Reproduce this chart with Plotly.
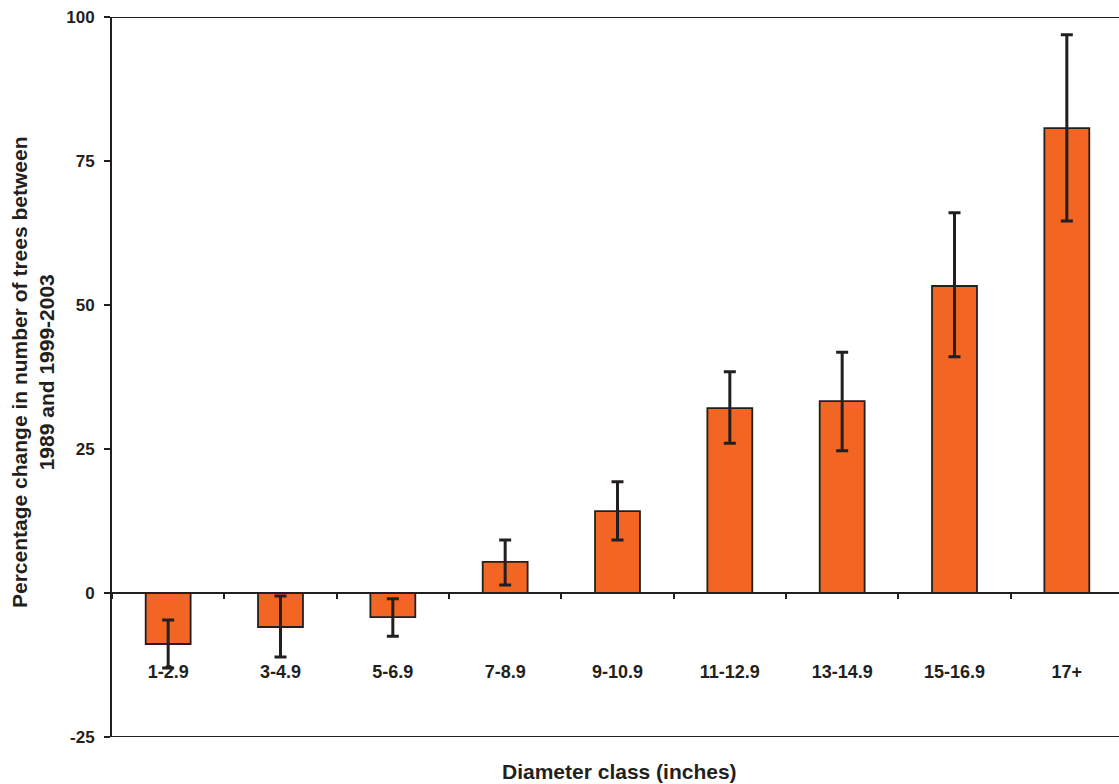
import plotly.graph_objects as go

categories = ["1-2.9", "3-4.9", "5-6.9", "7-8.9", "9-10.9", "11-12.9", "13-14.9", "15-16.9", "17+"]
values = [-8.85, -5.9, -4.2, 5.4, 14.2, 32.1, 33.3, 53.3, 80.7]
err_high = [-4.7, -0.5, -1.0, 9.2, 19.3, 38.4, 41.8, 66.0, 96.9]
err_low = [-13.0, -11.1, -7.5, 1.4, 9.2, 26.0, 24.7, 41.0, 64.6]
y_ticks = [-25, 0, 25, 50, 75, 100]
y_tick_labels = ["-25", "0", "25", "50", "75", "100"]

plus = [h - v for h, v in zip(err_high, values)]
minus = [v - l for v, l in zip(values, err_low)]

FONT = "Liberation Sans, Arial, sans-serif"
DARK = "#231F20"

fig = go.Figure()
fig.add_trace(go.Bar(
    x=categories, y=values,
    marker=dict(color="#F26522", line=dict(color=DARK, width=1.8)),
    width=0.4,
    error_y=dict(type="data", symmetric=False, array=plus, arrayminus=minus,
                 color=DARK, thickness=3, width=6),
))

fig.update_layout(
    width=1123, height=784,
    margin=dict(l=112, r=0, t=17, b=47, autoexpand=False),
    plot_bgcolor="white", paper_bgcolor="white",
    showlegend=False,
    font=dict(family=FONT, color=DARK),
    xaxis=dict(
        anchor="free", position=0.2, automargin=False,
        showline=True, linecolor=DARK, linewidth=1.8,
        ticks="outside", tickson="boundaries", ticklen=5, tickcolor=DARK, tickwidth=1.5,
        ticklabelstandoff=62,
        tickfont=dict(size=18, family=FONT, color=DARK, weight="bold"),
        showgrid=False, zeroline=False,
    ),
    yaxis=dict(
        range=[-25, 100], tickvals=y_ticks, ticktext=y_tick_labels, automargin=False,
        showline=True, linecolor=DARK, linewidth=2,
        ticks="outside", ticklen=6, tickcolor=DARK, tickwidth=1.5,
        ticklabelstandoff=6, ticklabeloverflow="allow",
        tickfont=dict(size=17, family=FONT, color=DARK, weight="bold"),
        showgrid=False, zeroline=False,
    ),
)

for yv in [100, -25]:
    fig.add_shape(type="line", xref="paper", yref="y", x0=-0.006, x1=1, y0=yv, y1=yv,
                  line=dict(color=DARK, width=2))

fig.add_annotation(text="<b>Percentage change in number of trees between<br>1989 and 1999-2003</b>",
                   xref="paper", yref="paper", x=0, y=0.5, xshift=-79, yshift=4,
                   textangle=-90, showarrow=False, xanchor="center", yanchor="middle",
                   font=dict(size=21, family=FONT, color=DARK))

fig.add_annotation(text="<b>Diameter class (inches)</b>", xref="paper", yref="paper",
                   x=0.5, y=0, yshift=-34, xshift=2, showarrow=False, xanchor="center", yanchor="middle",
                   font=dict(size=21, family=FONT, color=DARK))

fig.write_html(
    "out.html",
    config={"displayModeBar": False},
    post_script="document.body.style.margin='0';document.body.style.overflow='hidden';",
)
